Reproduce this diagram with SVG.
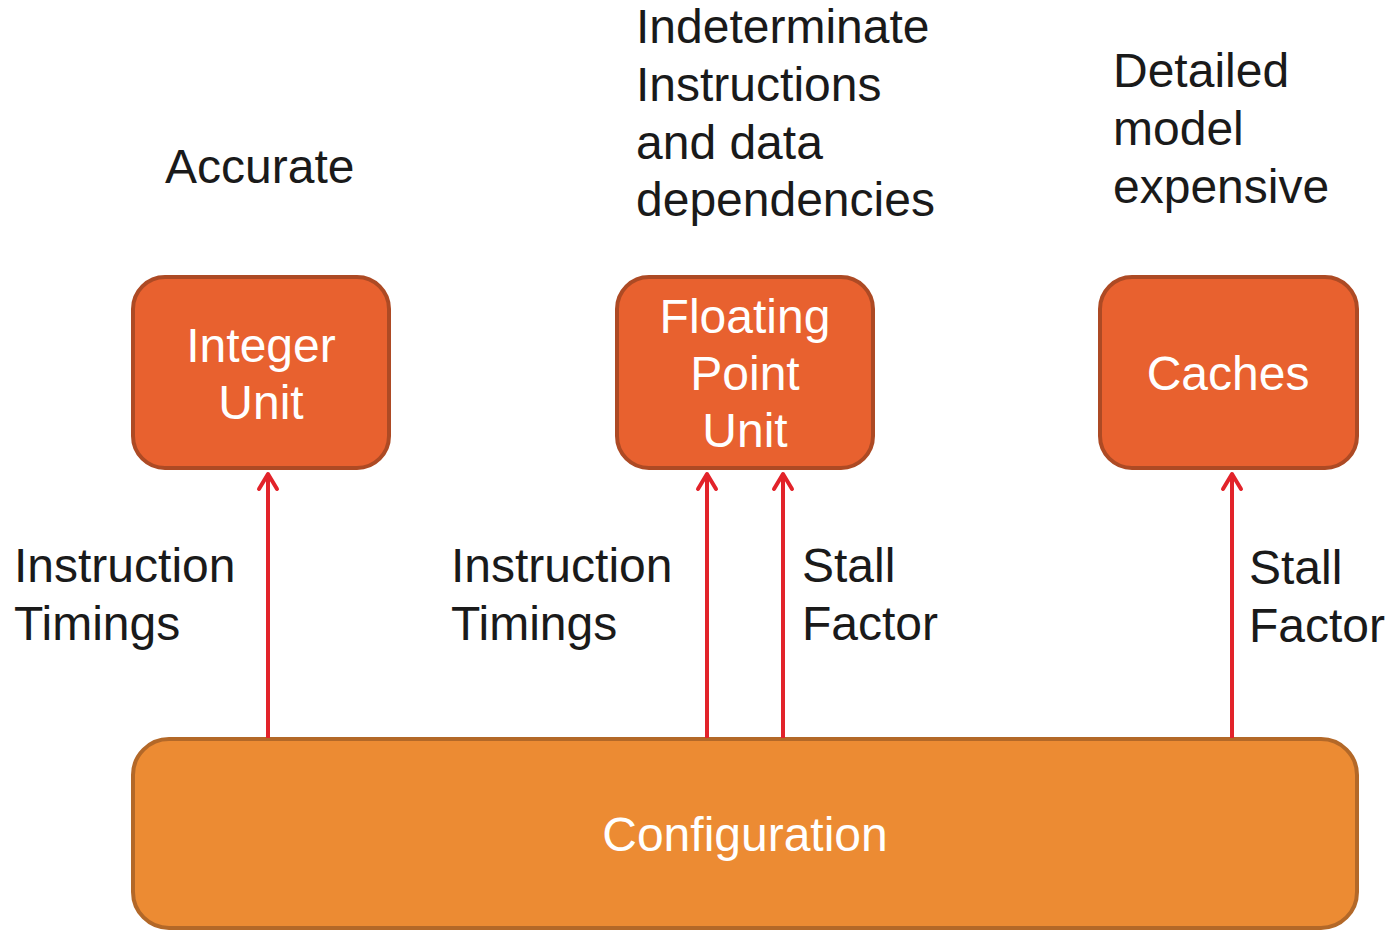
<svg xmlns="http://www.w3.org/2000/svg" width="1388" height="931" viewBox="0 0 1388 931">
<style>
text{font-family:"Liberation Sans",Arial,sans-serif;font-size:48px}
.lbl{fill:#1a1a1a}
.in{fill:#ffffff;text-anchor:middle}
.unit{fill:#e8612f;stroke:#ad4a24;stroke-width:4}
.cfg{fill:#ec8b33;stroke:#b36828;stroke-width:4}
.conn{stroke:#e2232a;stroke-width:4;fill:none}
.head{stroke:#e2232a;stroke-width:4;fill:none;stroke-linecap:round;stroke-linejoin:round}
</style>
<rect width="1388" height="931" fill="#ffffff"/>
<g id="configuration">
<rect class="cfg" x="133" y="739" width="1224" height="189" rx="36"/>
<text class="in" x="745" y="851">Configuration</text>
</g>
<g id="connectors">
<line class="conn" x1="268" y1="738" x2="268" y2="474"/>
<path class="head" d="M259,489 L268,474 L277,489"/>
<line class="conn" x1="707" y1="738" x2="707" y2="474"/>
<path class="head" d="M698,489 L707,474 L716,489"/>
<line class="conn" x1="783" y1="738" x2="783" y2="474"/>
<path class="head" d="M774,489 L783,474 L792,489"/>
<line class="conn" x1="1232" y1="738" x2="1232" y2="474"/>
<path class="head" d="M1223,489 L1232,474 L1241,489"/>
</g>
<g id="integer-unit">
<rect class="unit" x="133" y="277" width="256" height="191" rx="32"/>
<text class="in" x="261" y="362">Integer</text>
<text class="in" x="261" y="419">Unit</text>
</g>
<g id="floating-point-unit">
<rect class="unit" x="617" y="277" width="256" height="191" rx="32"/>
<text class="in" x="745" y="333">Floating</text>
<text class="in" x="745" y="390">Point</text>
<text class="in" x="745" y="447">Unit</text>
</g>
<g id="caches">
<rect class="unit" x="1100" y="277" width="257" height="191" rx="32"/>
<text class="in" x="1228" y="390">Caches</text>
</g>
<g id="labels">
<text class="lbl" x="165" y="183">Accurate</text>
<text class="lbl" x="636" y="43">Indeterminate</text>
<text class="lbl" x="636" y="101">Instructions</text>
<text class="lbl" x="636" y="159">and data</text>
<text class="lbl" x="636" y="216">dependencies</text>
<text class="lbl" x="1113" y="87">Detailed</text>
<text class="lbl" x="1113" y="145">model</text>
<text class="lbl" x="1113" y="203">expensive</text>
<text class="lbl" x="14" y="582">Instruction</text>
<text class="lbl" x="14" y="640">Timings</text>
<text class="lbl" x="451" y="582">Instruction</text>
<text class="lbl" x="451" y="640">Timings</text>
<text class="lbl" x="802" y="582">Stall</text>
<text class="lbl" x="802" y="640">Factor</text>
<text class="lbl" x="1249" y="584">Stall</text>
<text class="lbl" x="1249" y="642">Factor</text>
</g>
</svg>
